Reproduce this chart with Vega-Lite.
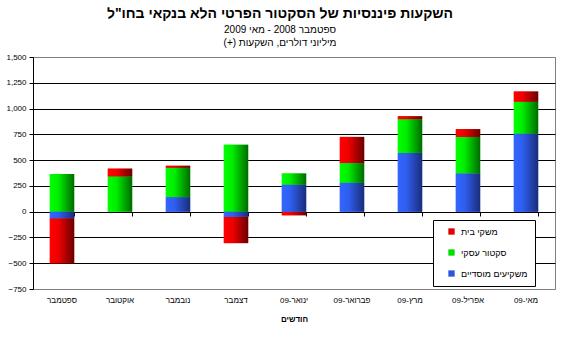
{
  "$schema": "https://vega.github.io/schema/vega-lite/v6.json",
  "autosize": {"type": "none"},
  "width": 522,
  "height": 232,
  "padding": {"left": 33, "top": 57, "right": 15, "bottom": 58},
  "background": "white",
  "config": {
    "font": "Liberation Sans",
    "view": {"stroke": "#808080", "strokeWidth": 1}
  },
  "title": {
    "text": "השקעות פיננסיות של הסקטור הפרטי הלא בנקאי בחו\"ל",
    "subtitle": ["ספטמבר 2008 - מאי 2009", "מיליוני דולרים, השקעות (+)\u200f"],
    "anchor": "middle",
    "dx": -14,
    "font": "Liberation Sans",
    "fontSize": 14,
    "fontWeight": "bold",
    "color": "black",
    "subtitleFont": "Liberation Sans",
    "subtitleFontSize": 10,
    "subtitleColor": "black",
    "subtitleLineHeight": 13,
    "subtitlePadding": 4,
    "offset": 5
  },
  "data": {
    "values": [
      {"month": "ספטמבר", "series": "משקיעים מוסדיים", "ord": 1, "value": -65},
      {"month": "ספטמבר", "series": "סקטור עסקי", "ord": 2, "value": 365},
      {"month": "ספטמבר", "series": "משקי בית", "ord": 3, "value": -435},
      {"month": "אוקטובר", "series": "משקיעים מוסדיים", "ord": 1, "value": 0},
      {"month": "אוקטובר", "series": "סקטור עסקי", "ord": 2, "value": 340},
      {"month": "אוקטובר", "series": "משקי בית", "ord": 3, "value": 77},
      {"month": "נובמבר", "series": "משקיעים מוסדיים", "ord": 1, "value": 140},
      {"month": "נובמבר", "series": "סקטור עסקי", "ord": 2, "value": 285},
      {"month": "נובמבר", "series": "משקי בית", "ord": 3, "value": 20},
      {"month": "דצמבר", "series": "משקיעים מוסדיים", "ord": 1, "value": -50},
      {"month": "דצמבר", "series": "סקטור עסקי", "ord": 2, "value": 650},
      {"month": "דצמבר", "series": "משקי בית", "ord": 3, "value": -255},
      {"month": "ינואר-09", "series": "משקיעים מוסדיים", "ord": 1, "value": 260},
      {"month": "ינואר-09", "series": "סקטור עסקי", "ord": 2, "value": 110},
      {"month": "ינואר-09", "series": "משקי בית", "ord": 3, "value": -35},
      {"month": "פברואר-09", "series": "משקיעים מוסדיים", "ord": 1, "value": 280},
      {"month": "פברואר-09", "series": "סקטור עסקי", "ord": 2, "value": 190},
      {"month": "פברואר-09", "series": "משקי בית", "ord": 3, "value": 255},
      {"month": "מרץ-09", "series": "משקיעים מוסדיים", "ord": 1, "value": 570},
      {"month": "מרץ-09", "series": "סקטור עסקי", "ord": 2, "value": 325},
      {"month": "מרץ-09", "series": "משקי בית", "ord": 3, "value": 30},
      {"month": "אפריל-09", "series": "משקיעים מוסדיים", "ord": 1, "value": 370},
      {"month": "אפריל-09", "series": "סקטור עסקי", "ord": 2, "value": 355},
      {"month": "אפריל-09", "series": "משקי בית", "ord": 3, "value": 75},
      {"month": "מאי-09", "series": "משקיעים מוסדיים", "ord": 1, "value": 755},
      {"month": "מאי-09", "series": "סקטור עסקי", "ord": 2, "value": 310},
      {"month": "מאי-09", "series": "משקי בית", "ord": 3, "value": 100}
    ]
  },
  "transform": [
    {"stack": "value", "groupby": ["month"], "sort": [{"field": "ord", "order": "ascending"}], "as": ["v0", "v1"], "offset": "zero"}
  ],
  "resolve": {"axis": {"x": "independent"}},
  "encoding": {
    "y": {
      "field": "v0",
      "type": "quantitative",
      "scale": {"domain": [-750, 1500], "nice": false, "zero": false},
      "axis": {
        "title": null,
        "values": [-750, -500, -250, 0, 250, 500, 750, 1000, 1250, 1500],
        "format": ",d",
        "labelFont": "Liberation Sans",
        "labelFontSize": 8,
        "labelColor": "black",
        "labelPadding": 3,
        "tickSize": 4,
        "tickColor": "black",
        "domainColor": "black",
        "gridColor": {"condition": {"test": "datum.value == 1500 || datum.value == -750", "value": "#808080"}, "value": "black"},
        "gridWidth": 1
      }
    },
    "y2": {"field": "v1"}
  },
  "layer": [
    {
      "mark": {"type": "bar"},
      "encoding": {
        "x": {
          "field": "month",
          "type": "nominal",
          "sort": null,
          "scale": {"paddingInner": 0.58, "paddingOuter": 0.29},
          "axis": {
            "title": "חודשים",
            "titleFont": "Liberation Sans",
            "titleFontSize": 8,
            "titleFontWeight": "bold",
            "titleColor": "black",
            "titlePadding": 11,
            "labelAngle": 0,
            "labelFont": "Liberation Sans",
            "labelFontSize": 8,
            "labelColor": "black",
            "labelPadding": 7,
            "ticks": false,
            "domain": false,
            "grid": false
          }
        },
        "fill": {
          "field": "series",
          "type": "nominal",
          "scale": {
            "domain": ["משקי בית", "סקטור עסקי", "משקיעים מוסדיים"],
            "range": ["#e00000", "#00dd00", "#2d55e0"]
          },
          "legend": {
            "title": null,
            "orient": "none",
            "legendX": 400,
            "legendY": 163,
            "fillColor": "white",
            "strokeColor": "black",
            "padding": 7,
            "rowPadding": 11,
            "symbolType": "square",
            "symbolSize": 40,
            "symbolStrokeWidth": 0,
            "symbolOffset": 7,
            "labelOffset": 5,
            "labelFont": "Liberation Sans",
            "labelFontSize": 9,
            "labelColor": "black"
          }
        }
      }
    },
    {
      "transform": [{"filter": "datum.ord == 3"}],
      "mark": {"type": "bar", "color": {"gradient": "linear", "x1": 0, "y1": 0, "x2": 1, "y2": 0, "stops": [{"offset": 0, "color": "#ff0000"}, {"offset": 0.35, "color": "#f00000"}, {"offset": 1, "color": "#6a0000"}]}},
      "encoding": {"x": {"field": "month", "type": "nominal", "sort": null, "axis": null}}
    },
    {
      "transform": [{"filter": "datum.ord == 2"}],
      "mark": {"type": "bar", "color": {"gradient": "linear", "x1": 0, "y1": 0, "x2": 1, "y2": 0, "stops": [{"offset": 0, "color": "#00ff00"}, {"offset": 0.35, "color": "#00ee00"}, {"offset": 1, "color": "#006a00"}]}},
      "encoding": {"x": {"field": "month", "type": "nominal", "sort": null, "axis": null}}
    },
    {
      "transform": [{"filter": "datum.ord == 1"}],
      "mark": {"type": "bar", "color": {"gradient": "linear", "x1": 0, "y1": 0, "x2": 1, "y2": 0, "stops": [{"offset": 0, "color": "#3366ff"}, {"offset": 0.35, "color": "#2f5ef0"}, {"offset": 1, "color": "#1a2d7a"}]}},
      "encoding": {"x": {"field": "month", "type": "nominal", "sort": null, "axis": null}}
    },
    {
      "mark": {"type": "point", "opacity": 0},
      "encoding": {
        "x": {
          "field": "month",
          "type": "nominal",
          "sort": null,
          "axis": {
            "title": null,
            "orient": "bottom",
            "offset": -77,
            "labels": false,
            "domain": false,
            "grid": false,
            "ticks": true,
            "tickBand": "extent",
            "tickSize": 4,
            "tickColor": "black"
          }
        },
        "y": {"datum": 0, "type": "quantitative"},
        "y2": null
      }
    }
  ]
}
